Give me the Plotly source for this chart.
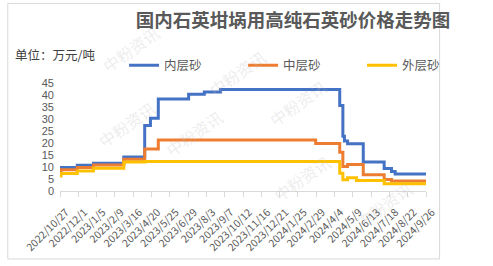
import plotly.graph_objects as go

# ---- data (change points, step lines) ----
inner_dates = ["2022-10-27", "2022-11-29", "2022-12-30", "2023-02-26", "2023-04-07", "2023-04-18",
               "2023-05-03", "2023-06-30", "2023-07-30", "2023-08-30", "2024-04-14", "2024-04-20",
               "2024-04-23", "2024-04-29", "2024-05-29", "2024-07-08", "2024-07-22", "2024-07-29",
               "2024-09-26"]
inner_vals = [9.8, 10.7, 11.6, 14.2, 27.3, 30.3, 38.3, 40.3, 41.2, 42.3, 35.6, 22.8,
              20.8, 19.7, 12.1, 9.4, 8.1, 7.1, 7.1]

middle_dates = ["2022-10-27", "2022-10-29", "2022-11-29", "2022-12-30", "2023-02-26", "2023-04-07",
                "2023-05-03", "2024-02-28", "2024-04-14", "2024-04-20", "2024-04-29", "2024-05-29",
                "2024-07-08", "2024-07-22", "2024-09-26"]
middle_vals = [8.0, 8.9, 9.8, 10.8, 13.2, 17.5, 21.3, 19.8, 16.1, 10.2, 11.0, 6.8, 4.8, 4.2, 4.2]

outer_dates = ["2022-10-27", "2022-10-29", "2022-11-29", "2022-12-30", "2023-02-26", "2023-04-07",
               "2024-04-14", "2024-04-20", "2024-04-29", "2024-05-16", "2024-07-08", "2024-09-26"]
outer_vals = [6.3, 7.3, 8.3, 9.5, 12.1, 12.3, 7.4, 4.7, 5.5, 4.4, 3.0, 3.0]

tick_dates = ["2022-10-27", "2022-12-01", "2023-01-05", "2023-02-09", "2023-03-16", "2023-04-20",
              "2023-05-25", "2023-06-29", "2023-08-03", "2023-09-07", "2023-10-12", "2023-11-16",
              "2023-12-21", "2024-01-25", "2024-02-29", "2024-04-04", "2024-05-09", "2024-06-13",
              "2024-07-18", "2024-08-22", "2024-09-26"]
tick_labels = ["2022/10/27", "2022/12/1", "2023/1/5", "2023/2/9", "2023/3/16", "2023/4/20",
               "2023/5/25", "2023/6/29", "2023/8/3", "2023/9/7", "2023/10/12", "2023/11/16",
               "2023/12/21", "2024/1/25", "2024/2/29", "2024/4/4", "2024/5/9", "2024/6/13",
               "2024/7/18", "2024/8/22", "2024/9/26"]

series_names = ["内层砂", "中层砂", "外层砂"]
colors = ["#4472C4", "#ED7D31", "#FFC000"]

W, H = 493, 266
L, R, T, B = 60, 16, 83, 71
PW, PH = W - L - R, H - T - B


def px(x, y):
    return (x - L) / PW, (H - B - y) / PH


FONT = "Noto Sans CJK SC, Noto Sans, sans-serif"
NUMFONT = "Liberation Sans, Arial, sans-serif"

fig = go.Figure()
for name, xs, ys, c in zip(series_names, [inner_dates, middle_dates, outer_dates],
                           [inner_vals, middle_vals, outer_vals], colors):
    fig.add_trace(go.Scatter(x=xs, y=ys, name=name, mode="lines", line_shape="hv",
                             line=dict(color=c, width=3)))

annotations = []
# faint watermarks
wm_positions = [(100, 16), (262, 40), (96, 126), (213, 167), (372, 72), (336, 214), (470, 242)]
for (x, y) in wm_positions:
    ax, ay = px(x, y)
    annotations.append(dict(x=ax, y=ay, xref="paper", yref="paper", text="中粉资讯", showarrow=False,
                            textangle=-35, font=dict(family=FONT, size=16, color="rgba(190,190,190,0.28)")))
ux, uy = px(7, 53)
annotations.append(dict(x=ux, y=uy, xref="paper", yref="paper", xanchor="left", yanchor="middle",
                        text="单位：万元/吨", showarrow=False,
                        font=dict(family=FONT, size=12.5, color="#404040")))

bx0, by1 = px(0.5, 0.5)
bx1, by0 = px(492.5, 265.5)

fig.update_layout(
    width=W, height=H,
    margin=dict(l=L, r=R, t=T, b=B),
    paper_bgcolor="white", plot_bgcolor="white",
    title=dict(text="国内石英坩埚用高纯石英砂价格走势图", x=293 / W, y=1 - 21 / H,
               xanchor="center", yanchor="middle",
               font=dict(family=FONT, size=18.5, color="#595959", weight="bold")),
    legend=dict(orientation="h", x=px(133, 0)[0], y=px(0, 65)[1],
                xanchor="left", yanchor="middle",
                entrywidth=74, entrywidthmode="pixels",
                font=dict(family=FONT, size=12.5, color="#595959"), bgcolor="rgba(0,0,0,0)"),
    showlegend=True,
    annotations=annotations,
    shapes=[dict(type="rect", xref="paper", yref="paper", x0=bx0, x1=bx1, y0=by0, y1=by1,
                 line=dict(color="#D9D9D9", width=1))],
    xaxis=dict(type="date", range=["2022-10-27", "2024-09-26"], tickvals=tick_dates, ticktext=tick_labels,
               tickangle=-45, ticks="outside", ticklen=5, tickcolor="#D9D9D9",
               ticklabelshift=6, ticklabelstandoff=5,
               showline=True, linecolor="#D9D9D9", linewidth=1, showgrid=False, zeroline=False,
               tickfont=dict(family=FONT, size=10.5, color="#595959")),
    yaxis=dict(range=[0, 45], tickvals=list(range(0, 46, 5)), showgrid=False, zeroline=False,
               showline=False, ticks="", ticklabelstandoff=5,
               tickfont=dict(family=NUMFONT, size=11, color="#595959")),
)

fig.write_html("out.html")
